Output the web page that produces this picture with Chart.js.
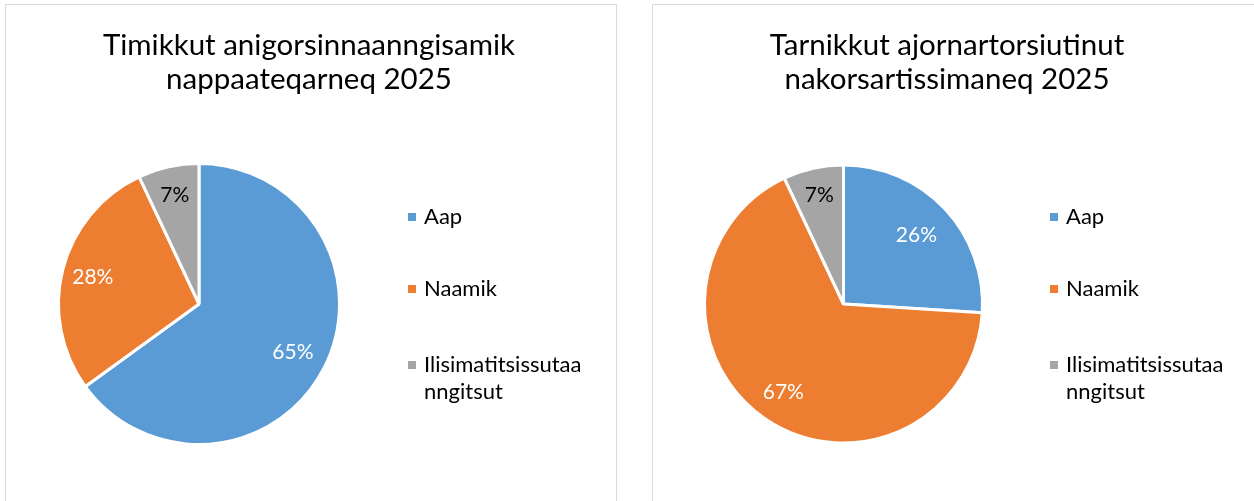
<!DOCTYPE html>
<html>
<head>
<meta charset="utf-8">
<script src="https://cdn.jsdelivr.net/npm/chart.js@4/dist/chart.umd.min.js"></script>
<style>
  html, body { margin:0; padding:0; background:#fff; width:1254px; height:501px; overflow:hidden; }
  .panel { position:absolute; top:4px; height:520px; border:1px solid #d9d9d9; box-sizing:border-box; background:#fff; }
  .panel canvas { position:absolute; left:0; top:0; }
</style>
</head>
<body>
<div class="panel" style="left:5px; width:612px;"><canvas id="c1" width="610" height="497"></canvas></div>
<div class="panel" style="left:652px; width:612px;"><canvas id="c2" width="610" height="497"></canvas></div>
<script>
// ---- data ----
const categories = ['Aap', 'Naamik', ['Ilisimatitsissutaa', 'nngitsut']];
const title1 = ['Timikkut anigorsinnaanngisamik', 'nappaateqarneq 2025'];
const title2 = ['Tarnikkut ajornartorsiutinut', 'nakorsartissimaneq 2025'];
const values1 = [65, 28, 7];
const values2 = [26, 67, 7];

// ---- style ----
const sliceColors = ['#5B9BD5', '#ED7D31', '#A5A5A5'];
const labelColors = ['#ffffff', '#ffffff', '#000000'];
const FONT = 'Lato, "Open Sans", sans-serif';

const titlePlugin = {
  id: 'panelTitle',
  afterDraw(chart, args, o) {
    const ctx = chart.ctx;
    ctx.save();
    ctx.font = o.size + 'px ' + FONT;
    ctx.fillStyle = '#000';
    ctx.textAlign = 'center';
    ctx.textBaseline = 'alphabetic';
    o.text.forEach((t, i) => ctx.fillText(t, o.x, o.y + i * o.lineH));
    ctx.restore();
  }
};

const pieLabelPlugin = {
  id: 'pieLabels',
  afterDatasetsDraw(chart, args, o) {
    const ctx = chart.ctx;
    const meta = chart.getDatasetMeta(0);
    const ds = chart.data.datasets[0];
    ctx.save();
    ctx.font = o.size + 'px ' + FONT;
    ctx.textAlign = 'center';
    ctx.textBaseline = 'middle';
    meta.data.forEach((arc, i) => {
      const p = arc.getProps(['startAngle', 'endAngle', 'outerRadius', 'x', 'y'], true);
      const mid = (p.startAngle + p.endAngle) / 2;
      const d = p.outerRadius * o.dist[i];
      ctx.fillStyle = labelColors[i];
      ctx.fillText(ds.data[i] + '%', p.x + Math.cos(mid) * d, p.y + Math.sin(mid) * d);
    });
    ctx.restore();
  }
};

const sideLegendPlugin = {
  id: 'sideLegend',
  afterDraw(chart, args, o) {
    const ctx = chart.ctx;
    const labels = chart.data.labels;
    const colors = chart.data.datasets[0].backgroundColor;
    ctx.save();
    ctx.font = o.size + 'px ' + FONT;
    ctx.textAlign = 'left';
    ctx.textBaseline = 'alphabetic';
    labels.forEach((lab, i) => {
      const lines = Array.isArray(lab) ? lab : [lab];
      const y = o.y[i];
      ctx.fillStyle = colors[i];
      ctx.fillRect(o.x, y - 11, 8, 8);
      ctx.fillStyle = '#000';
      lines.forEach((ln, j) => ctx.fillText(ln, o.x + 16, y + j * o.lineH));
    });
    ctx.restore();
  }
};

function makePie(id, values, title, geo) {
  const W = 610, H = 497;
  return new Chart(document.getElementById(id), {
    type: 'pie',
    data: {
      labels: categories,
      datasets: [{
        data: values,
        backgroundColor: sliceColors,
        borderColor: '#ffffff',
        borderWidth: 3,
        radius: geo.r,
        hoverOffset: 0
      }]
    },
    options: {
      responsive: false,
      maintainAspectRatio: false,
      devicePixelRatio: 1,
      animation: false,
      events: [],
      layout: {
        padding: {
          left: geo.cx - geo.r,
          right: W - geo.cx - geo.r,
          top: geo.cy - geo.r,
          bottom: H - geo.cy - geo.r
        }
      },
      plugins: {
        legend: { display: false },
        tooltip: { enabled: false },
        title: { display: false },
        panelTitle: { text: title, x: geo.tx, y: 50, lineH: 34, size: 29.5 },
        pieLabels: { size: 21, dist: geo.dist },
        sideLegend: { x: geo.lx, y: [219, 291, 367], lineH: 27, size: 22 }
      }
    },
    plugins: [titlePlugin, pieLabelPlugin, sideLegendPlugin]
  });
}

makePie('c1', values1, title1, { cx: 193, cy: 299, r: 140.5, tx: 303, lx: 402, dist: [0.75, 0.78, 0.79] });
makePie('c2', values2, title2, { cx: 190.5, cy: 299, r: 139, tx: 294, lx: 397, dist: [0.72, 0.77, 0.8] });
</script>
</body>
</html>
